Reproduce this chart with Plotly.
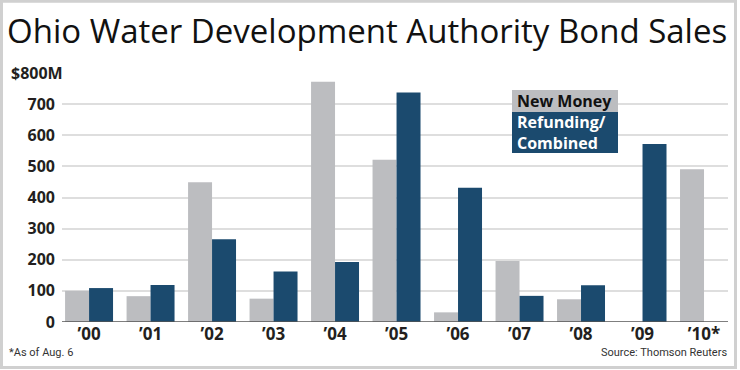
import plotly.graph_objects as go

years = ["’00", "’01", "’02", "’03", "’04", "’05", "’06", "’07", "’08", "’09", "’10*"]
new_money = [100, 83, 449, 75, 772, 521, 31, 196, 73, None, 491]
refunding = [109, 119, 266, 162, 193, 737, 431, 84, 118, 572, None]
y_ticks = [0, 100, 200, 300, 400, 500, 600, 700, 800]
y_ticktext = ["0", "100", "200", "300", "400", "500", "600", "700", ""]

GRAY = "#bcbdc0"
BLUE = "#1b4a6e"
W, H = 740, 370
L, R, T, B = 62, 12, 73, 48
PW, PH = W - L - R, H - T - B

def px(x):
    return (x - L) / PW

def py(y):
    return (H - B - y) / PH

fig = go.Figure()
fig.add_trace(go.Bar(x=years, y=new_money, name="New Money", marker_color=GRAY,
                     marker_line_width=0))
fig.add_trace(go.Bar(x=years, y=refunding, name="Refunding/Combined", marker_color=BLUE,
                     marker_line_width=0))

tickfont = dict(family="Open Sans", size=16, color="#231f20", weight="bold")

fig.update_layout(
    width=W, height=H,
    margin=dict(l=L, r=R, t=T, b=B, pad=0),
    paper_bgcolor="white", plot_bgcolor="white",
    barmode="group", bargap=0.22, bargroupgap=0,
    showlegend=False,
    xaxis=dict(range=[-0.44, 10.39], showgrid=False, showline=False, ticks="",
               tickfont=dict(family="Open Sans", size=17, color="#231f20", weight="bold"),
               fixedrange=True),
    yaxis=dict(range=[0, 800], tickvals=y_ticks, ticktext=y_ticktext,
               showgrid=True, gridcolor="#dedede", gridwidth=1.5,
               zeroline=False, showline=False, ticks="", ticklabelstandoff=6,
               tickfont=tickfont, fixedrange=True),
)

shapes = [
    # zero axis line
    dict(type="line", xref="paper", yref="y", x0=0, x1=1, y0=0, y1=0,
         line=dict(color="#555555", width=1.5)),
    # outer frame
    dict(type="rect", xref="paper", yref="paper", x0=px(1.5), x1=px(W - 4.5),
         y0=py(H - 2.5), y1=py(1.2), line=dict(color="#d0d0d0", width=3),
         layer="above"),
    # legend boxes
    dict(type="rect", xref="paper", yref="paper", x0=px(512), x1=px(618),
         y0=py(112), y1=py(90), fillcolor=GRAY, line=dict(width=0), layer="above"),
    dict(type="rect", xref="paper", yref="paper", x0=px(512), x1=px(618),
         y0=py(153), y1=py(112), fillcolor=BLUE, line=dict(width=0), layer="above"),
]

legfont = dict(family="Open Sans", size=16, weight="bold")
annotations = [
    dict(text="Ohio Water Development Authority Bond Sales", xref="paper", yref="paper",
         x=px(5), y=py(30), xanchor="left", yanchor="middle", showarrow=False,
         font=dict(family="Open Sans", size=33, color="#111111")),
    dict(text="$800M", xref="paper", yref="y", x=px(8), y=800, xanchor="left",
         yanchor="middle", showarrow=False, bgcolor="white", borderpad=2,
         font=tickfont),
    dict(text="New Money", xref="paper", yref="paper", x=px(515), y=py(101),
         xanchor="left", yanchor="middle", showarrow=False,
         font=dict(legfont, color="#111111")),
    dict(text="Refunding/<br>Combined", xref="paper", yref="paper", x=px(515), y=py(132.5),
         xanchor="left", yanchor="middle", align="left", showarrow=False,
         font=dict(legfont, color="white")),
    dict(text="*As of Aug. 6", xref="paper", yref="paper", x=px(7), y=py(352),
         xanchor="left", yanchor="middle", showarrow=False,
         font=dict(family="Roboto", size=11, color="#333333")),
    dict(text="Source: Thomson Reuters", xref="paper", yref="paper", x=px(729), y=py(352),
         xanchor="right", yanchor="middle", showarrow=False,
         font=dict(family="Roboto", size=11, color="#333333")),
]

fig.update_layout(shapes=shapes, annotations=annotations)
fig.write_html("out.html")
